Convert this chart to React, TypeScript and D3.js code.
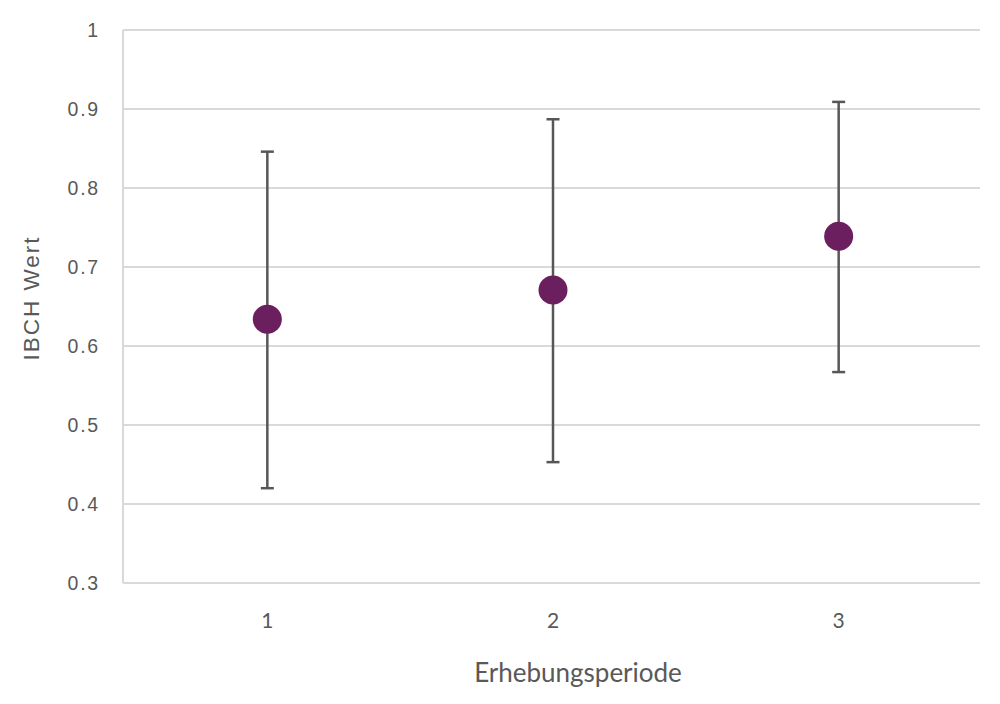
import React from "react";
import * as d3 from "d3";

const periods = [1, 2, 3];
const means = [0.634, 0.671, 0.739];
const upper = [0.846, 0.887, 0.909];
const lower = [0.42, 0.453, 0.567];
const yTicks = [0.3, 0.4, 0.5, 0.6, 0.7, 0.8, 0.9, 1];
const yTickLabels = ["0.3", "0.4", "0.5", "0.6", "0.7", "0.8", "0.9", "1"];
const xTitle = "Erhebungsperiode";
const yTitle = "IBCH Wert";

const W = 1000;
const H = 704;
const left = 123;
const right = 980;
const top = 30;
const bottom = 583;

export default function App() {
  const x = d3.scaleLinear().domain([0.5, 3.5]).range([left + 1.5, right + 1.5]);
  const y = d3.scaleLinear().domain([0.3, 1]).range([bottom, top]);
  const grid = "#d9d9d9";
  const text = "#595959";
  const err = "#575757";
  const fill = "#6B1F5F";
  const font = "'Liberation Sans', Arial, sans-serif";
  return (
    <svg width={W} height={H} style={{ position: "absolute", left: 0, top: 0, background: "#fff" }}>
      {yTicks.map((t, i) => (
        <g key={i}>
          <line x1={left} x2={right} y1={y(t)} y2={y(t)} stroke={grid} strokeWidth={2} />
          <text
            x={100}
            y={y(t)}
            dy="0.35em"
            textAnchor="end"
            fontFamily={font}
            fontSize={19.5}
            letterSpacing={1.8}
            fill={text}
          >
            {yTickLabels[i]}
          </text>
        </g>
      ))}
      <line x1={left} x2={left} y1={top} y2={bottom} stroke={grid} strokeWidth={2} />
      {periods.map((p, i) => (
        <text
          key={p}
          x={x(p)}
          y={621}
          dy="0.35em"
          textAnchor="middle"
          fontFamily="Lato, 'Open Sans', sans-serif"
          fontSize={21}
          fill={text}
        >
          {p}
        </text>
      ))}
      {periods.map((p, i) => (
        <g key={"e" + p}>
          <line x1={x(p)} x2={x(p)} y1={y(upper[i])} y2={y(lower[i])} stroke={err} strokeWidth={2.5} />
          <line x1={x(p) - 6.5} x2={x(p) + 6.5} y1={y(upper[i])} y2={y(upper[i])} stroke={err} strokeWidth={2.5} />
          <line x1={x(p) - 6.5} x2={x(p) + 6.5} y1={y(lower[i])} y2={y(lower[i])} stroke={err} strokeWidth={2.5} />
        </g>
      ))}
      {periods.map((p, i) => (
        <circle key={"c" + p} cx={x(p)} cy={y(means[i])} r={14.5} fill={fill} />
      ))}
      <text
        x={578}
        y={673}
        dy="0.35em"
        textAnchor="middle"
        fontFamily="Lato, 'Open Sans', sans-serif"
        fontSize={26}
        fill={text}
      >
        {xTitle}
      </text>
      <text
        transform={`translate(31, 298) rotate(-90)`}
        dy="0.35em"
        textAnchor="middle"
        fontFamily={font}
        fontSize={22.5}
        letterSpacing={2}
        fill={text}
      >
        {yTitle}
      </text>
    </svg>
  );
}
